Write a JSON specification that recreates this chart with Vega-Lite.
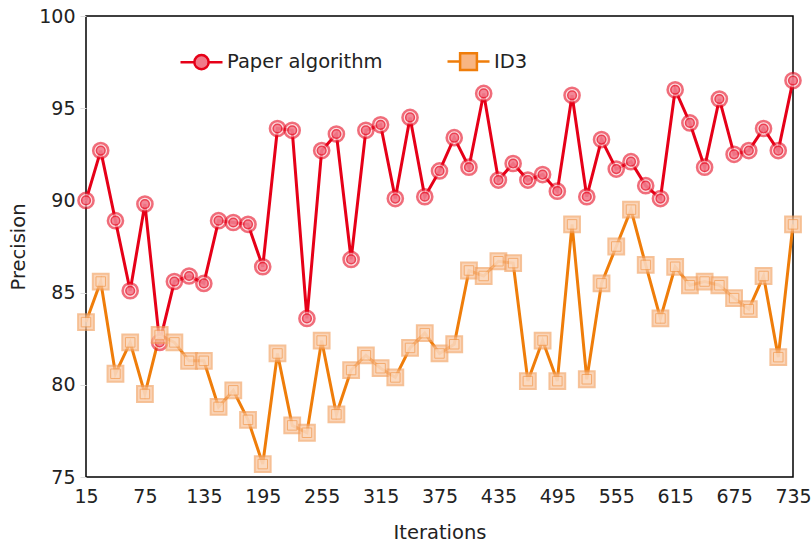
{
  "$schema": "https://vega.github.io/schema/vega-lite/v6.json",
  "width": 707,
  "height": 461,
  "autosize": {"type": "none"},
  "padding": {"left": 86, "top": 16, "right": 19, "bottom": 67},
  "config": {
    "font": "DejaVu Sans",
    "view": {"stroke": "#000", "strokeWidth": 1.5},
    "axis": {"grid": false, "labelFontSize": 19, "titleFontSize": 19.5, "labelColor": "#222", "titleColor": "#222", "titleFontWeight": "normal"}
  },
  "data": {
    "values": [
      {"it":15,"s":"Paper algorithm","p":90.0},{"it":30,"s":"Paper algorithm","p":92.7},{"it":45,"s":"Paper algorithm","p":88.9},{"it":60,"s":"Paper algorithm","p":85.1},{"it":75,"s":"Paper algorithm","p":89.8},{"it":90,"s":"Paper algorithm","p":82.3},{"it":105,"s":"Paper algorithm","p":85.6},{"it":120,"s":"Paper algorithm","p":85.9},{"it":135,"s":"Paper algorithm","p":85.5},{"it":150,"s":"Paper algorithm","p":88.9},{"it":165,"s":"Paper algorithm","p":88.8},{"it":180,"s":"Paper algorithm","p":88.7},{"it":195,"s":"Paper algorithm","p":86.4},{"it":210,"s":"Paper algorithm","p":93.9},{"it":225,"s":"Paper algorithm","p":93.8},{"it":240,"s":"Paper algorithm","p":83.6},{"it":255,"s":"Paper algorithm","p":92.7},{"it":270,"s":"Paper algorithm","p":93.6},{"it":285,"s":"Paper algorithm","p":86.8},{"it":300,"s":"Paper algorithm","p":93.8},{"it":315,"s":"Paper algorithm","p":94.1},{"it":330,"s":"Paper algorithm","p":90.1},{"it":345,"s":"Paper algorithm","p":94.5},{"it":360,"s":"Paper algorithm","p":90.2},{"it":375,"s":"Paper algorithm","p":91.6},{"it":390,"s":"Paper algorithm","p":93.4},{"it":405,"s":"Paper algorithm","p":91.8},{"it":420,"s":"Paper algorithm","p":95.8},{"it":435,"s":"Paper algorithm","p":91.1},{"it":450,"s":"Paper algorithm","p":92.0},{"it":465,"s":"Paper algorithm","p":91.1},{"it":480,"s":"Paper algorithm","p":91.4},{"it":495,"s":"Paper algorithm","p":90.5},{"it":510,"s":"Paper algorithm","p":95.7},{"it":525,"s":"Paper algorithm","p":90.2},{"it":540,"s":"Paper algorithm","p":93.3},{"it":555,"s":"Paper algorithm","p":91.7},{"it":570,"s":"Paper algorithm","p":92.1},{"it":585,"s":"Paper algorithm","p":90.8},{"it":600,"s":"Paper algorithm","p":90.1},{"it":615,"s":"Paper algorithm","p":96.0},{"it":630,"s":"Paper algorithm","p":94.2},{"it":645,"s":"Paper algorithm","p":91.8},{"it":660,"s":"Paper algorithm","p":95.5},{"it":675,"s":"Paper algorithm","p":92.5},{"it":690,"s":"Paper algorithm","p":92.7},{"it":705,"s":"Paper algorithm","p":93.9},{"it":720,"s":"Paper algorithm","p":92.7},{"it":735,"s":"Paper algorithm","p":96.5},
      {"it":15,"s":"ID3","p":83.4},{"it":30,"s":"ID3","p":85.6},{"it":45,"s":"ID3","p":80.6},{"it":60,"s":"ID3","p":82.3},{"it":75,"s":"ID3","p":79.5},{"it":90,"s":"ID3","p":82.7},{"it":105,"s":"ID3","p":82.3},{"it":120,"s":"ID3","p":81.3},{"it":135,"s":"ID3","p":81.3},{"it":150,"s":"ID3","p":78.8},{"it":165,"s":"ID3","p":79.7},{"it":180,"s":"ID3","p":78.1},{"it":195,"s":"ID3","p":75.7},{"it":210,"s":"ID3","p":81.7},{"it":225,"s":"ID3","p":77.8},{"it":240,"s":"ID3","p":77.4},{"it":255,"s":"ID3","p":82.4},{"it":270,"s":"ID3","p":78.4},{"it":285,"s":"ID3","p":80.8},{"it":300,"s":"ID3","p":81.6},{"it":315,"s":"ID3","p":80.9},{"it":330,"s":"ID3","p":80.4},{"it":345,"s":"ID3","p":82.0},{"it":360,"s":"ID3","p":82.8},{"it":375,"s":"ID3","p":81.7},{"it":390,"s":"ID3","p":82.2},{"it":405,"s":"ID3","p":86.2},{"it":420,"s":"ID3","p":85.9},{"it":435,"s":"ID3","p":86.7},{"it":450,"s":"ID3","p":86.6},{"it":465,"s":"ID3","p":80.2},{"it":480,"s":"ID3","p":82.4},{"it":495,"s":"ID3","p":80.2},{"it":510,"s":"ID3","p":88.7},{"it":525,"s":"ID3","p":80.3},{"it":540,"s":"ID3","p":85.5},{"it":555,"s":"ID3","p":87.5},{"it":570,"s":"ID3","p":89.5},{"it":585,"s":"ID3","p":86.5},{"it":600,"s":"ID3","p":83.6},{"it":615,"s":"ID3","p":86.4},{"it":630,"s":"ID3","p":85.4},{"it":645,"s":"ID3","p":85.6},{"it":660,"s":"ID3","p":85.4},{"it":675,"s":"ID3","p":84.7},{"it":690,"s":"ID3","p":84.1},{"it":705,"s":"ID3","p":85.9},{"it":720,"s":"ID3","p":81.5},{"it":735,"s":"ID3","p":88.7}
    ]
  },
  "encoding": {
    "x": {"field": "it", "type": "quantitative", "title": "Iterations",
      "scale": {"domain": [15, 735], "nice": false, "zero": false},
      "axis": {"values": [15,75,135,195,255,315,375,435,495,555,615,675,735], "ticks": false, "domain": false, "labelPadding": 10, "titlePadding": 17, "labelFlush": false}},
    "y": {"field": "p", "type": "quantitative", "title": "Precision",
      "scale": {"domain": [75, 100], "nice": false, "zero": false},
      "axis": {"values": [75,80,85,90,95,100], "domain": false, "tickColor": "#ddd", "tickSize": 6, "labelPadding": 5, "titlePadding": 10}}
  },
  "layer": [
    {
      "mark": {"type": "line", "strokeWidth": 3},
      "encoding": {
        "color": {"field": "s", "type": "nominal",
          "scale": {"domain": ["Paper algorithm", "ID3"], "range": ["#e60018", "#ef7d0a"]},
          "legend": {"title": null, "orient": "none", "legendX": 93, "legendY": 23, "direction": "horizontal",
            "labelFontSize": 19.5, "labelColor": "#222", "symbolSize": 1764, "symbolStrokeWidth": 2.5, "labelOffset": 3, "columnPadding": 59,
            "encode": {"symbols": {"update": {
              "shape": {"signal": "datum.value === 'ID3' ? 'M-1,0L-0.4,0M0.4,0L1,0M-0.4,-0.4H0.4V0.4H-0.4Z' : 'M-1,0L-0.34,0M0.34,0L1,0M-0.34,0A0.34,0.34 0 1 1 0.34,0A0.34,0.34 0 1 1 -0.34,0Z'"},
              "fill": {"signal": "datum.value === 'ID3' ? '#f8b582' : '#f07a8a'"},
              "opacity": {"value": 1}
            }}}}
        }
      }
    },
    {
      "transform": [{"filter": "datum.s === 'Paper algorithm'"}],
      "mark": {"type": "point", "shape": "circle", "filled": true, "size": 230, "fill": "#fbd3d8", "stroke": "#e60018", "strokeWidth": 2.5, "strokeOpacity": 0.8}
    },
    {
      "transform": [{"filter": "datum.s === 'Paper algorithm'"}],
      "mark": {"type": "point", "shape": "circle", "filled": true, "size": 75, "fill": "#ee6478", "stroke": "#e60018", "strokeWidth": 1.5}
    },
    {
      "transform": [{"filter": "datum.s === 'ID3'"}],
      "mark": {"type": "point", "shape": "square", "filled": true, "size": 250, "fill": "#f9c49c", "stroke": "#f2a05e", "strokeWidth": 2, "strokeOpacity": 0.9}
    },
    {
      "transform": [{"filter": "datum.s === 'ID3'"}],
      "mark": {"type": "point", "shape": "square", "filled": true, "size": 90, "fill": "#fbdcc4", "stroke": "#f29a50", "strokeWidth": 1}
    }
  ]
}
